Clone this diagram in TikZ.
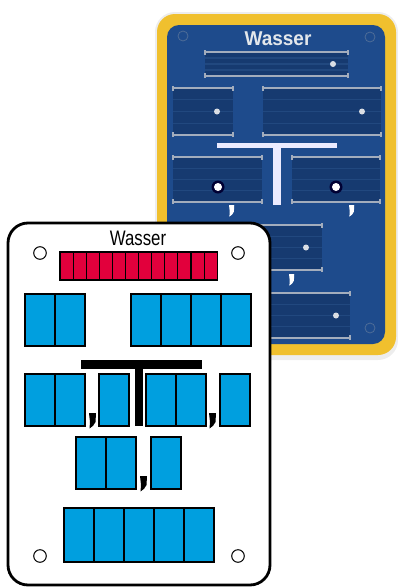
\documentclass[tikz,border=0pt]{standalone}
\usepackage{fontspec}
\setmainfont{Liberation Sans}
\usetikzlibrary{positioning}
\definecolor{kartenBlau}{HTML}{1E4B8C}
\definecolor{schlitzBlau}{HTML}{163A70}
\definecolor{streifenBlau}{HTML}{21487F}
\definecolor{rahmenGelb}{HTML}{F0C02E}
\definecolor{schlitzGrau}{HTML}{A3ADBD}
\definecolor{feldBlau}{HTML}{009FDF}
\definecolor{feldRot}{HTML}{E2003C}

% slot on the back card: x1, y1, x2, y2, dot x
\newcommand{\schlitz}[5]{%
  \fill[schlitzBlau] (#1,#2) rectangle (#3,#4);
  \foreach \f in {0.25,0.5,0.75}
    \draw[streifenBlau,line width=1.2pt] (#1,{#2+\f*(#4-#2)}) -- (#3,{#2+\f*(#4-#2)});
  \draw[schlitzGrau,line width=1.3pt] (#1-1,#2) -- (#3+1,#2);
  \draw[schlitzGrau,line width=1.3pt] (#1-1,#4) -- (#3+1,#4);
  \draw[schlitzGrau,line width=1.3pt] (#1,#2-2) -- (#1,#2+3) (#3,#2-2) -- (#3,#2+3)
                                      (#1,#4+2) -- (#1,#4-3) (#3,#4+2) -- (#3,#4-3);
  \fill[schlitzGrau!40!white] (#5,{(#2+#4)/2}) circle (3);
}
% row of blue fields: x, y, count, height
\newcommand{\felder}[4]{%
  \foreach \i in {1,...,#3}
    \draw[feld] ({#1+(\i-1)*30},#2) rectangle ++(30,#4);
}

\tikzset{
  feld/.style={draw=black,line width=1.1pt,fill=feldBlau},
  rotfeld/.style={draw=black,line width=1.1pt,fill=feldRot},
  loch/.style={draw=black,line width=1pt,fill=white},
  komma/.pic={\fill (0,0) -- (7,0) -- (6.5,9) .. controls (5.5,12) and (3,14) .. (0.5,15.5) -- (1,9) -- cycle;}
}

\begin{document}
\begin{tikzpicture}[x=1pt,y=-1pt]
  \useasboundingbox (0,0) rectangle (398,587);

  % back card
  \fill[black!7,rounded corners=20pt] (155,12) rectangle (398,360);
  \fill[rahmenGelb,rounded corners=18pt] (157,14) rectangle (396,355);
  \fill[kartenBlau,rounded corners=12pt] (167,25) rectangle (385,344);
  \draw[streifenBlau!80!white,line width=0.8pt] (183,36) circle (5) (370,37) circle (5) (370,328) circle (5);
  \node[font=\bfseries\fontsize{20}{20}\selectfont,text=schlitzGrau!30!white,xscale=0.95]
    (titelHinten) at (278,39) {Wasser};

  \schlitz{205}{52}{348}{76}{333}
  \schlitz{173}{88}{233}{135}{217}
  \schlitz{263}{88}{381}{135}{362}
  \schlitz{173}{157}{262}{202}{-20}
  \schlitz{292}{157}{380}{202}{-20}
  \schlitz{250}{225}{322}{270}{306}
  \schlitz{250}{293}{350}{338}{336}
  \foreach \p in {218,336} {
    \fill[black!80!blue] (\p,187) circle (6.5);
    \fill[white] (\p,187) circle (4);
  }
  \fill[white!92!blue] (217,143) rectangle (337,148);
  \fill[white!92!blue] (273,148) rectangle (281,205);
  \pic[white,scale=0.75] at (229,205) {komma};
  \pic[white,scale=0.75] at (349,205) {komma};
  \pic[white,scale=0.75] at (289,274) {komma};

  % front card
  \draw[fill=white,line width=2.8pt,rounded corners=20pt] (8,223) rectangle (270,585);
  \node[font=\fontsize{21}{21}\selectfont,xscale=0.8] (titelVorne) at (138,238) {Wasser};
  \foreach \x/\y in {40/253,238/253,40/556,238/556}
    \draw[loch] (\x,\y) circle (6.3);

  \foreach \i in {0,...,11}
    \draw[rotfeld] ({60+\i*13.1},252) rectangle ++(13.1,28);

  \felder{25}{294}{2}{52}
  \felder{131}{294}{4}{52}
  \fill[black] (81,360) rectangle (202,369);
  \fill[black] (135,369) rectangle (143,426);
  \felder{25}{374}{2}{52}
  \felder{99}{374}{1}{52}
  \felder{146}{374}{2}{52}
  \felder{220}{374}{1}{52}
  \felder{76}{437}{2}{52}
  \felder{151}{437}{1}{52}
  \felder{64}{508}{5}{54}
  \pic[black] at (89,413) {komma};
  \pic[black] at (209,413) {komma};
  \pic[black] at (140,476) {komma};
\end{tikzpicture}
\end{document}
